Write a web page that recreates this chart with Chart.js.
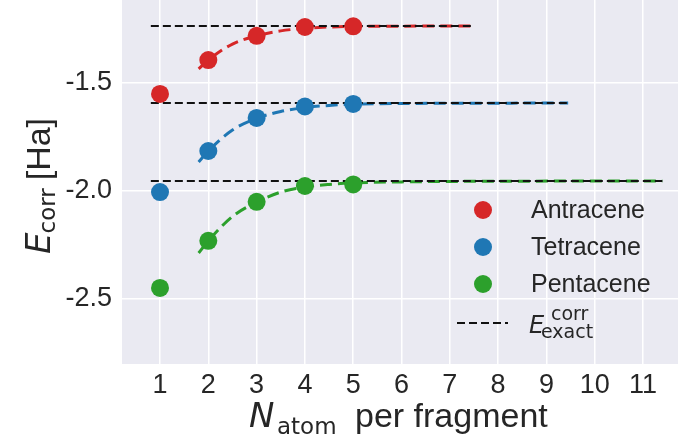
<!DOCTYPE html>
<html>
<head>
<meta charset="utf-8">
<script src="https://cdn.jsdelivr.net/npm/chart.js@4.4.1/dist/chart.umd.min.js"></script>
<style>
  html, body { margin: 0; padding: 0; background: #ffffff; }
  #wrap { width: 678px; height: 438px; }
</style>
</head>
<body>
<div id="wrap"><canvas id="myChart" width="678" height="438"></canvas></div>
<script>
// fragment sizes
var nAtom = [1, 2, 3, 4, 5]

// correlation energies per molecule (Ha)
var antracene = [-1.551, -1.394, -1.282, -1.241, -1.238]
var tetracene = [-2.005, -1.815, -1.662, -1.609, -1.597]
var pentacene = [-2.449, -2.231, -2.050, -1.977, -1.970]

// fitted curves
var fitXA = [1.8, 2, 2.5, 3, 3.5, 4, 4.5, 5, 6, 7.45]
var fitA = [-1.435, -1.394, -1.320, -1.282, -1.259, -1.247, -1.241, -1.238, -1.237, -1.236]
var fitXT = [1.8, 2, 2.5, 3, 3.5, 4, 4.5, 5, 6, 7, 9.45]
var fitT = [-1.866, -1.815, -1.718, -1.664, -1.632, -1.614, -1.604, -1.598, -1.595, -1.594, -1.593]
var fitXP = [1.8, 2, 2.5, 3, 3.5, 4, 4.5, 5, 6, 8, 11.4]
var fitP = [-2.287, -2.231, -2.118, -2.052, -2.005, -1.982, -1.970, -1.963, -1.958, -1.955, -1.954]

// exact energies and the x span of their reference lines
var exactE = [-1.236, -1.593, -1.954]
var exactStart = 0.81
var exactEnd = [7.45, 9.45, 11.4]

var xTicks = [1, 2, 3, 4, 5, 6, 7, 8, 9, 10, 11]
var yTicks = [-2.5, -2.0, -1.5]

var names = ['Antracene', 'Tetracene', 'Pentacene']
var colors = ['#d62728', '#1f77b4', '#2ca02c']

function pts(xs, ys) {
  var out = []
  for (var i = 0; i < xs.length; i++) out.push({x: xs[i], y: ys[i]})
  return out
}

var pointSets = [antracene, tetracene, pentacene]
var fitSets = [[fitXA, fitA], [fitXT, fitT], [fitXP, fitP]]
var datasets = []

// dots on top (lowest order drawn last)
for (var i = 0; i < 3; i++) {
  datasets.push({
    label: names[i],
    data: pts(nAtom, pointSets[i]),
    showLine: false,
    pointRadius: 9,
    pointHoverRadius: 9,
    pointBorderWidth: 0,
    backgroundColor: colors[i],
    borderColor: colors[i],
    order: 1
  })
}
for (var i = 0; i < 3; i++) {
  datasets.push({
    label: 'exact' + i,
    data: [{x: exactStart, y: exactE[i]}, {x: exactEnd[i], y: exactE[i]}],
    showLine: true,
    borderColor: '#111111',
    borderWidth: 2,
    borderDash: [8, 4],
    pointRadius: 0,
    order: 2
  })
}
for (var i = 0; i < 3; i++) {
  datasets.push({
    label: 'fit' + i,
    data: pts(fitSets[i][0], fitSets[i][1]),
    showLine: true,
    borderColor: colors[i],
    borderWidth: 3,
    borderDash: [12, 6],
    cubicInterpolationMode: 'monotone',
    pointRadius: 0,
    order: 3
  })
}

var tickFont = {family: "'Liberation Sans', Arial, sans-serif", size: 27}
var textColor = '#262626'

var decorations = {
  id: 'decorations',
  beforeDraw: function(chart) {
    var a = chart.chartArea, c = chart.ctx
    c.save()
    c.fillStyle = '#eaeaf2'
    c.fillRect(a.left, a.top, a.right - a.left, a.bottom - a.top)
    c.restore()
  },
  afterDraw: function(chart) {
    var c = chart.ctx
    c.save()
    c.fillStyle = textColor
    c.textBaseline = 'alphabetic'
    c.textAlign = 'left'

    // x title: N_atom per fragment
    c.font = "italic 34px 'DejaVu Sans'"
    c.fillText('N', 249, 427)
    c.font = "23px 'DejaVu Sans'"
    c.fillText('atom', 277, 434)
    c.font = "34px 'Liberation Sans', Arial"
    c.fillText('per fragment', 355, 427)

    // y title: E_corr [Ha], rotated
    c.save()
    c.translate(50, 254)
    c.rotate(-Math.PI / 2)
    c.font = "italic 34px 'DejaVu Sans'"
    c.fillText('E', 0, 0)
    var w = c.measureText('E').width
    c.font = "23px 'DejaVu Sans'"
    c.fillText('corr', w - 1, 5)
    w += c.measureText('corr').width + 7
    c.font = "34px 'Liberation Sans', Arial"
    c.fillText('[Ha]', w, 0)
    c.restore()

    // legend
    var ly = [210, 247, 284]
    c.textBaseline = 'middle'
    for (var i = 0; i < 3; i++) {
      c.beginPath()
      c.fillStyle = colors[i]
      c.arc(483, ly[i], 9, 0, Math.PI * 2)
      c.fill()
      c.fillStyle = textColor
      c.font = "25px 'Liberation Sans', Arial"
      c.fillText(names[i], 531, ly[i] + 1)
    }
    c.beginPath()
    c.strokeStyle = '#111111'
    c.lineWidth = 2
    c.setLineDash([8, 4])
    c.moveTo(457, 323)
    c.lineTo(508, 323)
    c.stroke()
    c.setLineDash([])
    c.textBaseline = 'alphabetic'
    c.font = "italic 24px 'DejaVu Sans'"
    c.fillText('E', 529, 333)
    c.font = "19px 'DejaVu Sans'"
    c.fillText('corr', 551, 320)
    c.fillText('exact', 541, 338)
    c.restore()
  }
}

var ctx = document.getElementById('myChart').getContext('2d')
var chart = new Chart(ctx, {
  type: 'scatter',
  data: {datasets: datasets},
  plugins: [decorations],
  options: {
    responsive: false,
    animation: false,
    devicePixelRatio: 1,
    layout: {padding: 0, autoPadding: false},
    plugins: {legend: {display: false}, tooltip: {enabled: false}},
    scales: {
      x: {
        type: 'linear',
        min: 0.213,
        max: 11.724,
        border: {display: false},
        grid: {color: '#ffffff', lineWidth: 1.5, drawTicks: false},
        afterBuildTicks: function(scale) {
          scale.ticks = xTicks.map(function(v) { return {value: v} })
        },
        afterFit: function(scale) {
          scale.height = 74
          scale.paddingLeft = 0
          scale.paddingRight = 0
        },
        ticks: {
          font: tickFont,
          color: textColor,
          padding: 5,
          maxRotation: 0,
          callback: function(v) { return String(v) }
        }
      },
      y: {
        type: 'linear',
        min: -2.801,
        max: -1.116,
        border: {display: false},
        grid: {color: '#ffffff', lineWidth: 1.5, drawTicks: false},
        afterBuildTicks: function(scale) {
          scale.ticks = yTicks.map(function(v) { return {value: v} })
        },
        afterFit: function(scale) {
          scale.width = 122
          scale.paddingTop = 0
          scale.paddingBottom = 0
        },
        ticks: {
          font: tickFont,
          color: textColor,
          padding: 10,
          callback: function(v) { return v.toFixed(1) }
        }
      }
    }
  }
})
</script>
</body>
</html>
